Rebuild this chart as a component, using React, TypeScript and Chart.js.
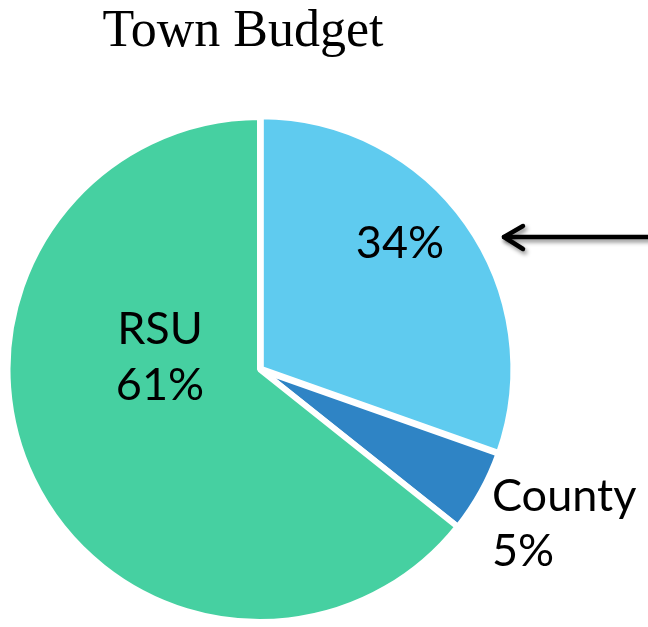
import React, { useEffect, useRef } from 'react';
import { Chart, registerables } from 'chart.js';

Chart.register(...registerables);

// Data
const categories = ['Town', 'County', 'RSU'];
const sliceValues = [30.4, 5.3, 64.3];
const percentLabels = ['34%', '5%', '61%'];
const nameLabels = ['', 'County', 'RSU'];
const sliceColors = ['#5FCBEF', '#2F84C5', '#46D0A1'];
const sliceOffsets = [4, 1, 0];
const titleText = 'Town Budget';

const labelFont = '45px Lato, "Open Sans", sans-serif';

const overlayPlugin = {
  id: 'overlay',
  afterDraw(chart: any) {
    const ctx = chart.ctx as CanvasRenderingContext2D;
    const meta = chart.getDatasetMeta(0);
    const arc0 = meta.data[0];
    const cx = arc0.x;
    const cy = arc0.y;

    ctx.save();
    // Title
    ctx.fillStyle = '#000';
    ctx.font = '52px "Liberation Serif", "Times New Roman", serif';
    ctx.textAlign = 'center';
    ctx.textBaseline = 'alphabetic';
    ctx.fillText(titleText, 243, 46);

    // Slice labels
    ctx.font = labelFont;
    ctx.textAlign = 'center';
    ctx.fillText(percentLabels[0], cx + 140, cy - 112);
    ctx.fillText(nameLabels[2], cx - 100, cy - 26);
    ctx.fillText(percentLabels[2], cx - 100, cy + 30);
    ctx.textAlign = 'left';
    ctx.fillText(nameLabels[1], cx + 232, cy + 141);
    ctx.fillText(percentLabels[1], cx + 232, cy + 196);

    // Arrow
    ctx.shadowColor = 'rgba(0,0,0,0.45)';
    ctx.shadowBlur = 4;
    ctx.shadowOffsetX = 2;
    ctx.shadowOffsetY = 3;
    ctx.strokeStyle = '#000';
    ctx.lineWidth = 4.5;
    ctx.lineCap = 'round';
    ctx.lineJoin = 'round';
    ctx.beginPath();
    ctx.moveTo(660, 237);
    ctx.lineTo(504, 237);
    ctx.stroke();
    ctx.beginPath();
    ctx.moveTo(523, 226);
    ctx.lineTo(504, 237);
    ctx.lineTo(523, 249);
    ctx.stroke();
    ctx.restore();
  },
};

export default function App() {
  const canvasRef = useRef<HTMLCanvasElement | null>(null);

  useEffect(() => {
    if (!canvasRef.current) return;
    const chart = new Chart(canvasRef.current, {
      type: 'pie',
      data: {
        labels: categories,
        datasets: [
          {
            data: sliceValues,
            backgroundColor: sliceColors,
            borderColor: '#ffffff',
            borderWidth: 6,
            offset: sliceOffsets,
          },
        ],
      },
      options: {
        responsive: true,
        maintainAspectRatio: false,
        animation: false,
        layout: { padding: { left: 1, right: 129, top: 112, bottom: -3 } },
        plugins: {
          legend: { display: false },
          tooltip: { enabled: false },
          title: { display: false },
        },
      },
      plugins: [overlayPlugin],
    });
    return () => chart.destroy();
  }, []);

  return (
    <div style={{ position: 'absolute', left: 0, top: 0, width: 648, height: 627, background: '#fff' }}>
      <canvas ref={canvasRef} />
    </div>
  );
}
